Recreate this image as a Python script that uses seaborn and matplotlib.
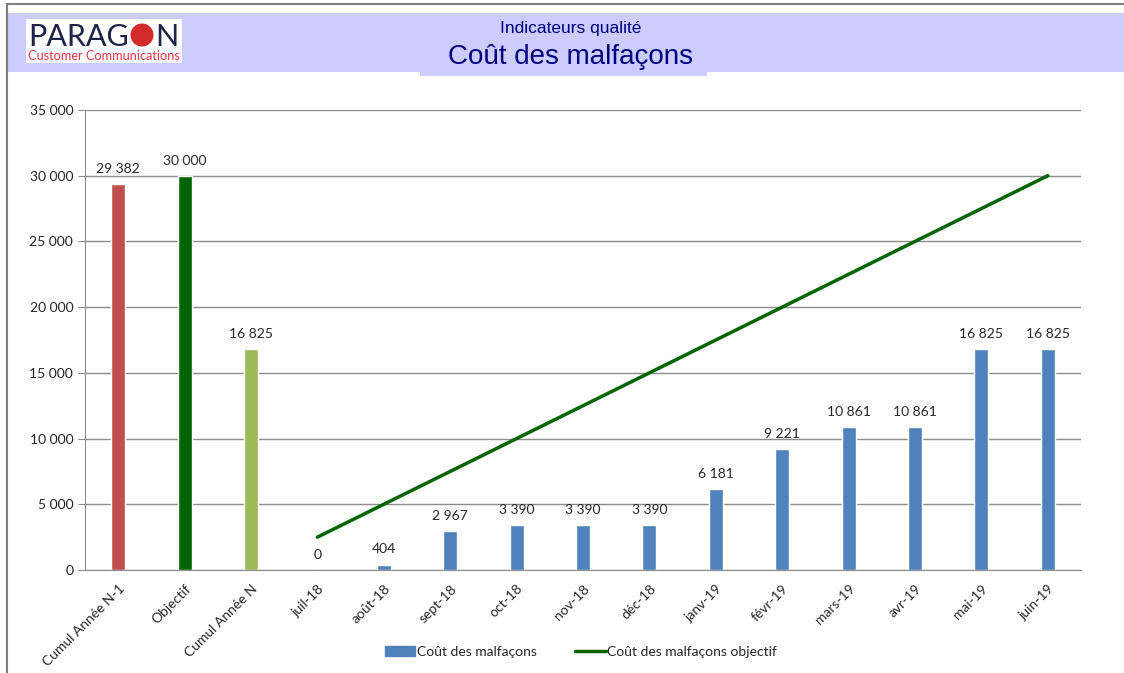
import matplotlib.pyplot as plt
import matplotlib.patches as mpatches
from matplotlib.lines import Line2D
import pandas as pd
import seaborn as sns

# data
categories = ['Cumul Année N-1', 'Objectif', 'Cumul Année N', 'juil-18', 'août-18', 'sept-18',
              'oct-18', 'nov-18', 'déc-18', 'janv-19', 'févr-19', 'mars-19', 'avr-19', 'mai-19', 'juin-19']
couts = [29382, 30000, 16825, 0, 404, 2967, 3390, 3390, 3390, 6181, 9221, 10861, 10861, 16825, 16825]
mois = categories[3:]
objectif = [2500, 5000, 7500, 10000, 12500, 15000, 17500, 20000, 22500, 25000, 27500, 30000]

bar_colors = ['#C0504D', '#006400', '#9BBB59'] + ['#4F81BD'] * 12
df = pd.DataFrame({'cat': categories, 'val': couts})
df_obj = pd.DataFrame({'pos': range(3, 15), 'val': objectif})

sns.set_style('white')
plt.rcParams['font.family'] = ['Lato', 'DejaVu Sans']

fig = plt.figure(figsize=(11.24, 6.73), dpi=100)
W, H = 1124, 673

def px(x, y):
    return x / W, 1 - y / H

# frame + header band
fig.add_artist(Line2D([7 / W, 1], [1 - 4 / H, 1 - 4 / H], color='#808080', lw=1.5))
fig.add_artist(Line2D([7 / W, 7 / W], [0, 1 - 4 / H], color='#808080', lw=1.5))
fig.add_artist(mpatches.Rectangle(px(8, 72), 1 - 8 / W, 59 / H, color='#CCCCFF', lw=0))
fig.add_artist(mpatches.Rectangle(px(420, 76), 287 / W, 34 / H, color='#CCCCFF', lw=0))

# logo
fig.add_artist(mpatches.Rectangle(px(26, 63), 156 / W, 44 / H, color='white', lw=0))
fig.text(*px(28, 46), 'PARAG', color='#1F2347', fontsize=22, family='Lato', va='baseline')
fig.add_artist(mpatches.Ellipse(px(142, 35), 23 / W, 23 / H, color='#D42A2A', lw=0))
fig.text(*px(155, 46), 'N', color='#1F2347', fontsize=22, family='Lato', va='baseline')
fig.text(*px(28, 60), 'Customer Communications', color='#E8384A', fontsize=9.2, family='Lato', va='baseline')

# titles
fig.text(*px(571, 28), 'Indicateurs qualité', color='#000080', fontsize=12.5,
         family='Liberation Sans', ha='center', va='center')
fig.text(*px(571, 57), 'Coût des malfaçons', color='#000080', fontsize=20,
         family='Liberation Sans', ha='center', va='center')

ax = fig.add_axes([85 / W, 1 - 570 / H, (1081 - 85) / W, (570 - 110) / H])
sns.barplot(data=df, x='cat', y='val', hue='cat', palette=bar_colors, width=0.21,
            legend=False, ax=ax, saturation=1)
sns.lineplot(data=df_obj, x='pos', y='val', color='#006400', lw=2.5, ax=ax)

ax.set_xlim(-0.5, 14.5)
ax.set_ylim(0, 35000)
ax.set_yticks(range(0, 35001, 5000))
ax.set_yticklabels([f'{v:,}'.replace(',', ' ') for v in range(0, 35001, 5000)], fontsize=10)
ax.yaxis.grid(True, color='#8C8C8C', lw=1)
ax.set_axisbelow(True)
ax.set_xticks(range(15))
ax.set_xticklabels(categories, rotation=45, ha='right', rotation_mode='anchor', fontsize=10)
ax.set_xticks([i - 0.5 for i in range(16)], minor=True)
ax.tick_params(axis='x', which='major', length=0, pad=9)
ax.tick_params(axis='x', which='minor', length=5, color='#8C8C8C', direction='out')
ax.tick_params(axis='y', length=5, color='#8C8C8C', direction='out', left=True)
ax.set_xlabel('')
ax.set_ylabel('')
for s in ['top', 'right']:
    ax.spines[s].set_visible(False)
for s in ['left', 'bottom']:
    ax.spines[s].set_color('#8C8C8C')

for i, v in enumerate(couts):
    ax.text(i, v + 700, f'{v:,}'.replace(',', ' '), ha='center', va='bottom', fontsize=10, color='#262626')

handles = [mpatches.Patch(color='#4F81BD', label='Coût des malfaçons'),
           Line2D([], [], color='#006400', lw=2.5, label='Coût des malfaçons objectif')]
fig.legend(handles=handles, loc='center', bbox_to_anchor=px(581, 652), ncol=2, frameon=False,
           fontsize=10, handlelength=2.2, handletextpad=0.1, columnspacing=2.8)

fig.savefig('out.png', dpi=100)
